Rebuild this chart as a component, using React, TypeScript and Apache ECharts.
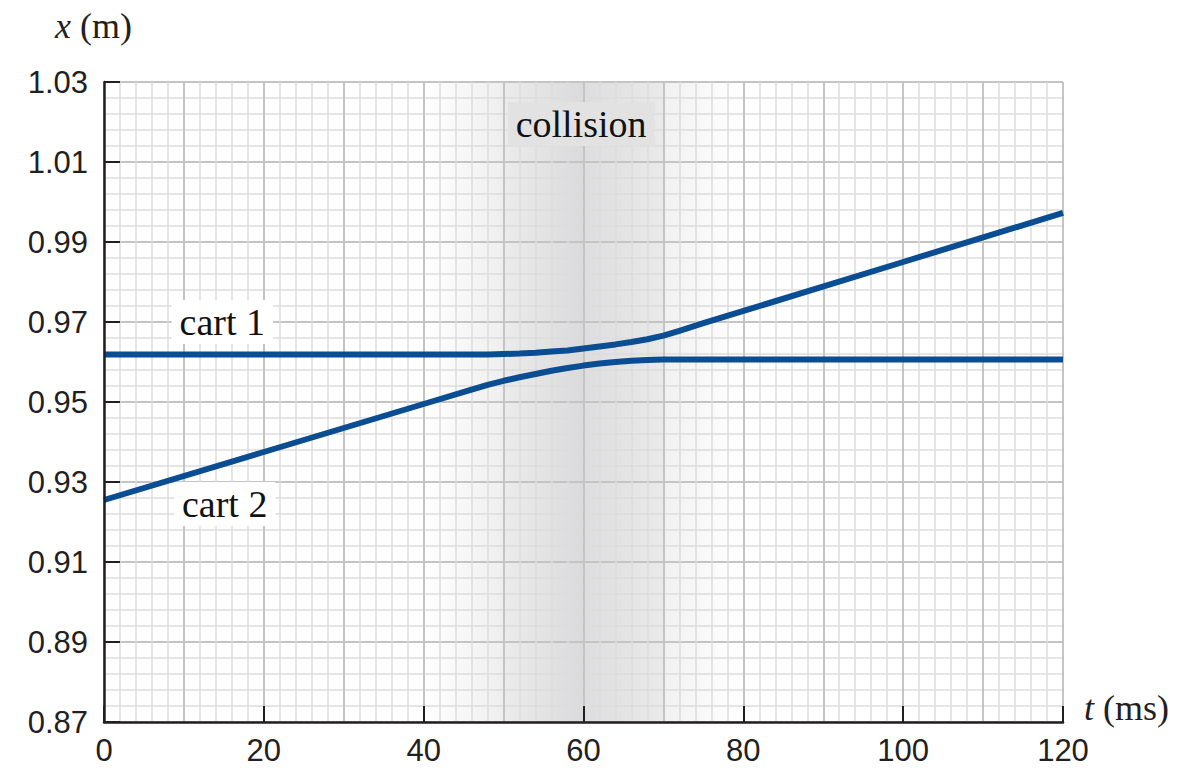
import React, { useEffect, useRef } from "react";
import * as echarts from "echarts";

// ---- data ----
const cart1T = [0, 20, 40, 48, 50, 52, 54, 56, 58, 60, 62, 64, 66, 68, 70, 72, 75, 100, 120];
const cart1X = [0.9619, 0.9619, 0.9619, 0.9619, 0.962, 0.9621, 0.9623, 0.9626, 0.9629, 0.9634, 0.9639, 0.9644, 0.965, 0.9657, 0.9666, 0.9678, 0.9697, 0.985, 0.9973];
const cart2T = [0, 20, 40, 46, 48, 50, 52, 54, 56, 58, 60, 62, 64, 66, 68, 70, 90, 120];
const cart2X = [0.9255, 0.9375, 0.9495, 0.9531, 0.9543, 0.9553, 0.9562, 0.957, 0.9578, 0.9585, 0.9591, 0.9596, 0.96, 0.9603, 0.9605, 0.9606, 0.9606, 0.9606];
const xTickLabels = [0, 20, 40, 60, 80, 100, 120];
const yTickLabels = ["0.87", "0.89", "0.91", "0.93", "0.95", "0.97", "0.99", "1.01", "1.03"];
const shadeBands: [number, number, number, number][] = [
  [40, 50, 0.0, 0.075],
  [50, 60, 0.09, 0.17],
  [60, 70, 0.155, 0.1],
  [70, 80, 0.065, 0.0],
];
const annotations = [
  { name: "cart 1", t: 14.8, x: 0.97, bg: "#ffffff" },
  { name: "cart 2", t: 15.1, x: 0.9245, bg: "#ffffff" },
  { name: "collision", t: 59.7, x: 1.0195, bg: "#e2e2e2" },
];

const BLUE = "#0b4d92";
const INK = "#231f20";

export default function App() {
  const ref = useRef<HTMLDivElement>(null);
  useEffect(() => {
    const chart = echarts.init(ref.current!, null, { renderer: "svg" });
    const serif = "'Liberation Serif', 'DejaVu Serif', serif";
    const sans = "'Liberation Sans', Arial, sans-serif";
    const gridAxisCommon = {
      type: "value" as const,
      axisLine: { show: false },
      axisTick: { show: false },
      axisLabel: { show: false },
      splitLine: { show: true, lineStyle: { color: "#c4c4c4", width: 2 } },
      minorTick: { show: false, splitNumber: 5 },
      minorSplitLine: { show: true, lineStyle: { color: "#dcdcdc", width: 1.5 } },
      z: 2,
    };
    chart.setOption({
      animation: false,
      grid: { left: 104, top: 82, right: 139, bottom: 55, containLabel: false },
      xAxis: [
        { ...gridAxisCommon, min: 0, max: 120, interval: 10 },
        {
          type: "value",
          min: 0,
          max: 120,
          interval: 20,
          position: "bottom",
          splitLine: { show: false },
          axisLine: { show: true, lineStyle: { color: INK, width: 2.5 } },
          axisTick: { show: true, inside: true, length: 16, lineStyle: { color: INK, width: 2 } },
          axisLabel: {
            show: true,
            fontFamily: sans,
            fontSize: 31,
            color: INK,
            margin: 13,
            formatter: (v: number) => (xTickLabels.includes(Math.round(v)) ? String(Math.round(v)) : ""),
          },
          z: 6,
        },
      ],
      yAxis: [
        { ...gridAxisCommon, min: 0.87, max: 1.03, interval: 0.02 },
        {
          type: "value",
          min: 0.87,
          max: 1.03,
          interval: 0.02,
          position: "left",
          splitLine: { show: false },
          axisLine: { show: true, lineStyle: { color: INK, width: 2.5 } },
          axisTick: { show: true, inside: true, length: 16, lineStyle: { color: INK, width: 2 } },
          axisLabel: {
            show: true,
            fontFamily: sans,
            fontSize: 31,
            color: INK,
            margin: 16,
            padding: [0, 0, 8, 0],
            formatter: (v: number) => {
              const s = v.toFixed(2);
              return yTickLabels.includes(s) ? s : "";
            },
          },
          z: 6,
        },
      ],
      graphic: [
        {
          type: "text",
          left: 55,
          top: 8,
          style: {
            text: "{i|x} (m)",
            font: `36px ${serif}`,
            fill: INK,
            rich: { i: { fontStyle: "italic", fontFamily: serif, fontSize: 36, fill: INK } },
          },
        },
        {
          type: "text",
          left: 1084,
          top: 690,
          style: {
            text: "{i|t} (ms)",
            font: `36px ${serif}`,
            fill: INK,
            rich: { i: { fontStyle: "italic", fontFamily: serif, fontSize: 36, fill: INK } },
          },
        },
      ],
      series: [
        {
          type: "line",
          xAxisIndex: 0,
          yAxisIndex: 0,
          data: [],
          z: 1,
          silent: true,
          markArea: {
            silent: true,
            data: shadeBands.map(([a, b, o1, o2]) => [
              {
                xAxis: a,
                itemStyle: {
                  color: new echarts.graphic.LinearGradient(0, 0, 1, 0, [
                    { offset: 0, color: `rgba(40,40,50,${o1})` },
                    { offset: 1, color: `rgba(40,40,50,${o2})` },
                  ]),
                },
              },
              { xAxis: b },
            ]),
          },
        },
        {
          name: "cart 1",
          type: "line",
          xAxisIndex: 0,
          yAxisIndex: 0,
          data: cart1T.map((t, i) => [t, cart1X[i]]),
          smooth: false,
          showSymbol: false,
          symbol: "none",
          lineStyle: { color: BLUE, width: 6, join: "round" },
          z: 5,
        },
        {
          name: "cart 2",
          type: "line",
          xAxisIndex: 0,
          yAxisIndex: 0,
          data: cart2T.map((t, i) => [t, cart2X[i]]),
          smooth: false,
          showSymbol: false,
          symbol: "none",
          lineStyle: { color: BLUE, width: 6, join: "round" },
          z: 5,
        },
        {
          type: "scatter",
          xAxisIndex: 0,
          yAxisIndex: 0,
          symbolSize: 0,
          silent: true,
          z: 7,
          itemStyle: { opacity: 1 },
          data: annotations.map((a) => ({
            value: [a.t, a.x],
            label: {
              show: true,
              position: "inside",
              formatter: a.name,
              fontFamily: serif,
              fontSize: 38,
              color: "#111",
              opacity: 1,
              backgroundColor: a.bg,
              padding: [3, 8, 3, 8],
            },
          })),
        },
      ],
    });
    return () => chart.dispose();
  }, []);
  return (
    <div
      ref={ref}
      style={{ position: "fixed", left: 0, top: 0, width: 1202, height: 777, background: "#fff" }}
    />
  );
}
